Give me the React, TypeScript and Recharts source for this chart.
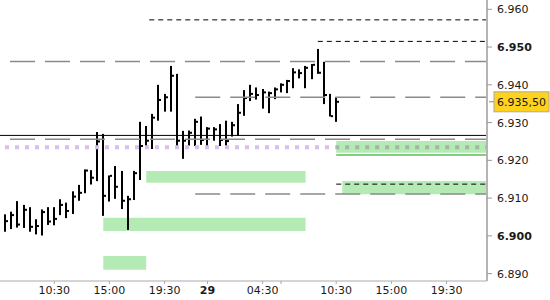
import React from "react";
import {
  ComposedChart,
  Bar,
  XAxis,
  YAxis,
  ReferenceLine,
  ReferenceArea,
} from "recharts";

// 30 minute bars, one per slot (slot 1 = first visible bar)
const highs = [
  6.9057, 6.9064, 6.9092, 6.9082, 6.9076, 6.9044, 6.907, 6.9076, 6.9076, 6.9097,
  6.9088, 6.9118, 6.9135, 6.9176, 6.9174, 6.9275, 6.927, 6.916, 6.9185, 6.9172,
  6.9106, 6.9172, 6.9302, 6.9291, 6.9323, 6.94, 6.9376, 6.945, 6.9429, 6.9278,
  6.9279, 6.931, 6.9316, 6.9288, 6.9288, 6.9296, 6.9305, 6.9302, 6.9349, 6.9386,
  6.94, 6.9393, 6.9389, 6.9382, 6.9393, 6.9404, 6.9413, 6.9444, 6.9441, 6.945,
  6.9455, 6.9495, 6.9461, 6.9376, 6.9367,
];
const lows = [
  6.9011, 6.9018, 6.9022, 6.9021, 6.9011, 6.9004, 6.9001, 6.9029, 6.9028, 6.9055,
  6.9047, 6.9058, 6.9093, 6.9113, 6.9136, 6.9145, 6.9053, 6.9091, 6.9098, 6.9071,
  6.9016, 6.9095, 6.9148, 6.923, 6.923, 6.9305, 6.9329, 6.9329, 6.9236, 6.9204,
  6.9239, 6.9238, 6.9241, 6.9238, 6.9252, 6.9238, 6.9238, 6.9263, 6.9265, 6.9318,
  6.9357, 6.9361, 6.9337, 6.9325, 6.9362, 6.938, 6.9378, 6.9391, 6.9417, 6.9391,
  6.9415, 6.9429, 6.9349, 6.9316, 6.9302,
];
const closes = [
  6.9039, 6.9055, 6.903, 6.9069, 6.9024, 6.9026, 6.9063, 6.9038, 6.9045, 6.9082,
  6.9066, 6.9104, 6.9114, 6.9173, 6.9154, 6.925, 6.9106, 6.9159, 6.913, 6.9093,
  6.9097, 6.9166, 6.9238, 6.9252, 6.9313, 6.936, 6.9367, 6.9424, 6.9252, 6.9252,
  6.9273, 6.9302, 6.9254, 6.9284, 6.9282, 6.9254, 6.9251, 6.9293, 6.9326, 6.9365,
  6.9376, 6.9373, 6.938, 6.9378, 6.9388, 6.94, 6.941, 6.9433, 6.9431, 6.9445,
  6.9453, 6.9432, 6.9373, 6.9317, 6.9355,
];

const xTicks = [9, 18, 27, 34, 43, 46, 55, 64, 73];
const xLabels = ["10:30", "15:00", "19:30", "29", "04:30", "", "10:30", "15:00", "19:30"];
const yTicks = [6.89, 6.9, 6.91, 6.92, 6.93, 6.94, 6.95, 6.96];
const boldY = [6.9, 6.95];
const lastPrice = 6.9355;

// green zones: [fromSlot, toSlot, bottom, top]
const zones = [
  [55, 79.6, 6.922, 6.9251],
  [56, 79.6, 6.911, 6.9145],
  [24, 50, 6.9141, 6.9172],
  [17, 50, 6.9013, 6.9048],
  [17, 24, 6.891, 6.8947],
];

const X_MIN = 0.15;
const X_MAX = 79.6;
const FONT = "DejaVu Sans";

const data = highs.map((h, i) => ({
  slot: i + 1,
  range: [lows[i], h],
  high: h,
  low: lows[i],
  close: closes[i],
}));

const OhlcBar = (props: any) => {
  const { x, y, width, height, payload } = props;
  const top = Math.min(y, y + height);
  const h = Math.abs(height);
  const cx = Math.round(x + width / 2);
  const cy = top + ((payload.high - payload.close) / (payload.high - payload.low)) * h;
  return (
    <g>
      <rect x={cx - 1} y={top} width={2} height={Math.max(h, 1)} fill="#000" />
      <rect x={cx + 1} y={cy - 1} width={2} height={2} fill="#000" />
    </g>
  );
};

const XTick = (props: any) => {
  const { x, y, index } = props;
  const label = xLabels[index];
  return (
    <text
      x={x}
      y={y + 8}
      textAnchor="middle"
      fontFamily={FONT}
      fontSize={11}
      fontWeight={label === "29" ? "bold" : "normal"}
      fill="#1a1a1a"
    >
      {label}
    </text>
  );
};

const YTick = (props: any) => {
  const { x, y, payload } = props;
  const bold = boldY.some((b) => Math.abs(b - payload.value) < 1e-6);
  return (
    <text
      x={x}
      y={y + 4}
      textAnchor="start"
      fontFamily={FONT}
      fontSize={11}
      fontWeight={bold ? "bold" : "normal"}
      fill="#1a1a1a"
    >
      {payload.value.toFixed(3)}
    </text>
  );
};

const priceText = (v: number) => {
  const s = v.toFixed(5);
  return s.slice(0, 5) + "," + s.slice(5);
};

const PriceTag = (props: any) => {
  const vb = props.viewBox;
  const right = vb.x + vb.width;
  const y = vb.y;
  return (
    <g>
      <line x1={right + 2} x2={right + 7} y1={y} y2={y} stroke="#c08000" />
      <rect x={right + 7} y={y - 10} width={55} height={20} fill="#ffd21e" stroke="#a8a8a8" />
      <text x={right + 10} y={y + 4} fontFamily={FONT} fontSize={11} fill="#1a1a1a">
        {priceText(lastPrice)}
      </text>
    </g>
  );
};

const seg = (from: number, to: number, v: number) => [
  { x: from, y: v },
  { x: to, y: v },
];

export default function App() {
  return (
    <div style={{ position: "absolute", left: 0, top: 0 }}>
      <ComposedChart
        width={550}
        height={300}
        data={data}
        margin={{ top: 0, right: 0, bottom: 0, left: 0 }}
      >
        <XAxis
          type="number"
          dataKey="slot"
          domain={[X_MIN, X_MAX]}
          allowDataOverflow
          ticks={xTicks}
          interval={0}
          height={19}
          tick={<XTick />}
          tickSize={3}
          tickLine={{ stroke: "#aaa" }}
          axisLine={{ stroke: "#aaa" }}
        />
        <YAxis
          orientation="right"
          type="number"
          domain={[6.88805, 6.96246]}
          allowDataOverflow
          ticks={yTicks}
          interval={0}
          width={63}
          tick={<YTick />}
          tickSize={5}
          tickMargin={5}
          tickLine={{ stroke: "#999" }}
          axisLine={{ stroke: "#b4b4b4", strokeWidth: 2 }}
        />

        {zones.map((z, i) => (
          <ReferenceArea
            key={i}
            x1={z[0]}
            x2={z[1]}
            y1={z[2]}
            y2={z[3]}
            fill="#b4ebb4"
            fillOpacity={1}
            stroke="none"
          />
        ))}

        <ReferenceLine segment={seg(24.5, X_MAX, 6.9572)} stroke="#000" strokeDasharray="5 4" />
        <ReferenceLine segment={seg(52, X_MAX, 6.9515)} stroke="#000" strokeDasharray="5 4" />
        <ReferenceLine segment={seg(X_MIN, X_MAX, 6.9462)} stroke="#8a8a8a" strokeWidth={1.5} strokeDasharray="25 10" strokeDashoffset={25} />
        <ReferenceLine segment={seg(32, X_MAX, 6.9367)} stroke="#8a8a8a" strokeWidth={1.5} strokeDasharray="25 10" />
        <ReferenceLine segment={seg(X_MIN, X_MAX, 6.9266)} stroke="#000" />
        <ReferenceLine segment={seg(X_MIN, X_MAX, 6.9256)} stroke="#8a8a8a" strokeWidth={1.5} strokeDasharray="25 10" strokeDashoffset={25} />
        <ReferenceLine segment={seg(X_MIN, X_MAX, 6.9235)} stroke="#dcbdf0" strokeWidth={4} strokeDasharray="4 6" strokeDashoffset={5} />
        <ReferenceLine segment={seg(55, X_MAX, 6.9235)} stroke="#a9b4a9" strokeWidth={4} strokeDasharray="4 6" strokeDashoffset={1} />
        <ReferenceLine segment={seg(55, X_MAX, 6.9214)} stroke="#5cbc5c" strokeWidth={1.5} />
        <ReferenceLine segment={seg(55, X_MAX, 6.9137)} stroke="#000" strokeDasharray="5 4" />
        <ReferenceLine segment={seg(32, X_MAX, 6.9111)} stroke="#8a8a8a" strokeWidth={1.5} strokeDasharray="25 10" />

        <Bar dataKey="range" barSize={2} shape={<OhlcBar />} isAnimationActive={false} />

        <ReferenceLine y={lastPrice} stroke="none" label={<PriceTag />} />
      </ComposedChart>
    </div>
  );
}
